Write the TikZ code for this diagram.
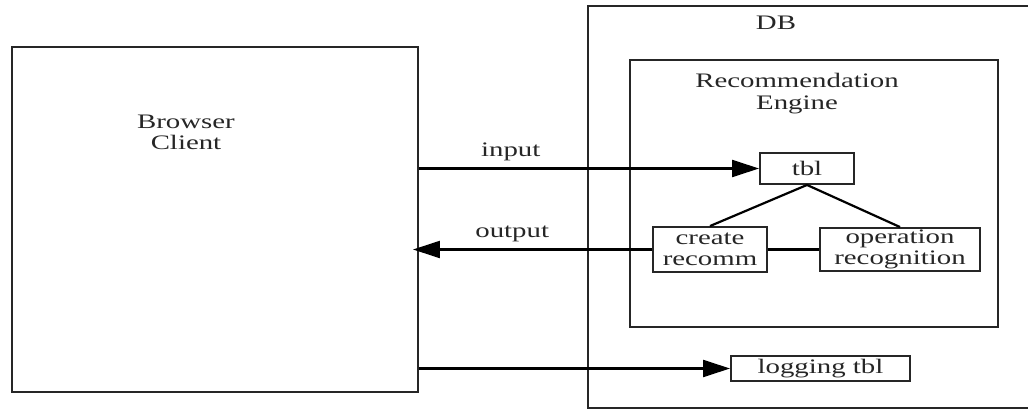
\documentclass[tikz,border=0pt]{standalone}
\usepackage{fontspec}
\setmainfont[FakeStretch=1.4]{Liberation Serif}
\usetikzlibrary{arrows.meta}
\begin{document}
\begin{tikzpicture}[x=1pt,y=-1pt,
  box/.style={draw=black!85, line width=1.9pt},
  lbl/.style={inner sep=0pt, font=\fontsize{20.6}{21.5}\selectfont, align=center, text=black!85},
  conn/.style={line width=2.2pt, black},
  arr/.style={conn, -{Triangle[length=27pt,width=17pt]}}]
\useasboundingbox (0,0) rectangle (1028,409);
% containers
\node[box, inner sep=0pt, minimum width=406pt, minimum height=345pt] (browser) at (215,219.5) {};
\draw[box] (1040,6) -- (588,6) -- (588,408) -- (1040,408);
\node[box, inner sep=0pt, minimum width=368pt, minimum height=267pt] (rec) at (814,193.5) {};
% labels
\node[lbl] (blabel) at (186,132.5) {Browser\\Client};
\node[lbl] (dblabel) at (776,23) {DB};
\node[lbl] (reclabel) at (797,93.5) {Recommendation\\Engine};
% inner nodes
\node[box, inner sep=0pt, minimum width=94pt, minimum height=31pt] (tbl) at (807,168.5) {};
\node[lbl] at (tbl) {tbl};
\node[box, inner sep=0pt, minimum width=114pt, minimum height=45pt] (create) at (710,249.5) {};
\node[lbl] at (create) {create\\recomm};
\node[box, inner sep=0pt, minimum width=160pt, minimum height=43pt] (oper) at (900,249.5) {};
\node[lbl] at (oper) {operation\\recognition};
\node[box, inner sep=0pt, minimum width=179pt, minimum height=25pt] (log) at (820.5,368.5) {};
\node[lbl] at (log) {logging tbl};
% connectors
\draw[conn] (tbl.south) -- (create.north);
\draw[conn] (tbl.south) -- (oper.north);
\draw[conn] (create.east) -- (oper.west);
\draw[arr] (browser.east |- tbl.west) -- node[lbl, above=7pt, pos=0.27] (inlbl) {input} (tbl.west);
\draw[arr, shorten >=-6pt] (create.west) -- node[lbl, above=7pt, pos=0.6] (outlbl) {output} (browser.east |- create.west);
\draw[arr] (browser.east |- log.west) -- (log.west);
\end{tikzpicture}
\end{document}
